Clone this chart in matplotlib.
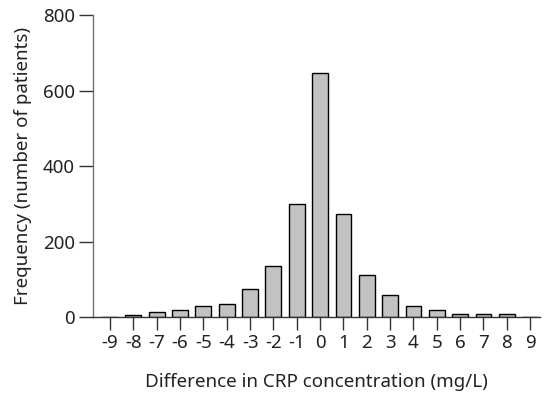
import numpy as np
import matplotlib.pyplot as plt

# difference in CRP concentration (mg/L) and patient counts
diffs = [-9, -8, -7, -6, -5, -4, -3, -2, -1, 0, 1, 2, 3, 4, 5, 6, 7, 8, 9]
counts = [1, 6, 13, 19, 28, 34, 74, 135, 300, 647, 274, 112, 59, 28, 18, 8, 9, 9, 1]
yticks = [0, 200, 400, 600, 800]

plt.rcParams['font.family'] = ['Noto Sans', 'DejaVu Sans']
plt.rcParams['font.weight'] = 'light'

fig = plt.figure(figsize=(5.44, 3.97), dpi=100)
ax = fig.add_axes([0.171, 0.2015, 0.822, 0.7605])

ax.bar(diffs, counts, width=0.68, color='#c2c2c2', edgecolor='black', linewidth=1.0)

ax.set_xlim(-9.73, 9.43)
ax.set_ylim(0, 800)
ax.set_xticks(diffs)
ax.set_yticks(yticks)
ax.set_xticklabels([str(d) for d in diffs])

for s in ['top', 'right']:
    ax.spines[s].set_visible(False)
ax.spines['left'].set_color('#707070')
ax.spines['bottom'].set_color('#333333')
for s in ['left', 'bottom']:
    ax.spines[s].set_linewidth(1.0)

ax.tick_params(axis='x', direction='out', length=9, width=1, color='#333333',
               labelsize=13.5, pad=3, labelcolor='#222222')
ax.tick_params(axis='y', direction='out', length=10, width=1, color='#333333',
               labelsize=13.5, pad=3, labelcolor='#222222')

ax.set_ylabel('Frequency (number of patients)', fontsize=13.5, labelpad=8,
              color='#222222')
ax.set_xlabel('Difference in CRP concentration (mg/L)', fontsize=13.5, labelpad=15,
              color='#222222')

fig.savefig('out.png', dpi=100)
